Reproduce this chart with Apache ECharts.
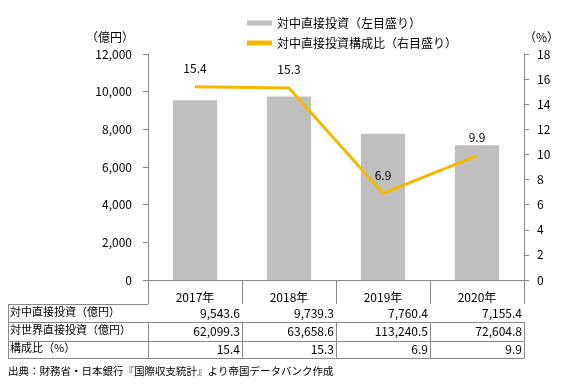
<!DOCTYPE html>
<html>
<head>
<meta charset="utf-8">
<script src="https://cdn.jsdelivr.net/npm/echarts@6/dist/echarts.min.js"></script>
<style>html,body{margin:0;padding:0;background:#fff}#c{width:564px;height:387px}</style>
</head>
<body>
<div id="c"></div>
<script>
const categories = ['2017年', '2018年', '2019年', '2020年'];
const chinaFDI = [9543.6, 9739.3, 7760.4, 7155.4];
const worldFDI = [62099.3, 63658.6, 113240.5, 72604.8];
const share = [15.4, 15.3, 6.9, 9.9];
const rowHeaders = ['対中直接投資（億円）', '対世界直接投資（億円）', '構成比（%）'];
const seriesNames = ['対中直接投資（左目盛り）', '対中直接投資構成比（右目盛り）'];
const sourceNote = '出典：財務省・日本銀行『国際収支統計』より帝国データバンク作成';

const FONT = "'Noto Sans CJK JP', sans-serif";
const LINE = '#888888';
const fmt1 = v => v.toLocaleString('en-US', {minimumFractionDigits: 1, maximumFractionDigits: 1});

const chart = echarts.init(document.getElementById('c'), null, {renderer: 'canvas'});

const gridLeft = 148, gridRight = 524, axisY = 280;
const rowTops = [304, 322, 341];
const rowBottoms = [322, 341, 358];

function tableAxis(values, offset, height, formatter) {
  return {
    type: 'category', gridIndex: 0, position: 'bottom', offset: offset,
    data: categories,
    axisLine: {show: true, lineStyle: {color: LINE, width: 1}},
    axisTick: {show: height > 0, length: height, lineStyle: {color: LINE}},
    axisLabel: {
      show: !!values,
      margin: height / 2 - 6,
      formatter: (val, i) => values ? '{v|' + formatter(values[i]) + '}' : '',
      rich: {v: {width: 90, align: 'right', fontSize: 12, fontFamily: FONT, color: '#000'}}
    }
  };
}

const graphics = [];
[rowTops[0], ...rowBottoms].forEach(y => {
  graphics.push({type: 'line', shape: {x1: 8, y1: y + 0.5, x2: gridLeft, y2: y + 0.5}, style: {stroke: LINE, lineWidth: 1}, silent: true});
});
graphics.push({type: 'line', shape: {x1: 8.5, y1: rowTops[0], x2: 8.5, y2: rowBottoms[2]}, style: {stroke: LINE, lineWidth: 1}, silent: true});
rowHeaders.forEach((t, i) => {
  graphics.push({type: 'text', left: 10, top: (rowTops[i] + rowBottoms[i]) / 2 - 7,
    style: {text: t, font: '11px ' + FONT, fill: '#000'}});
});
graphics.push({type: 'text', left: 8, top: 366, style: {text: sourceNote, font: '10.5px ' + FONT, fill: '#000'}});

chart.setOption({
  animation: false,
  textStyle: {fontFamily: FONT},
  grid: {left: gridLeft, right: 564 - gridRight, top: 54, bottom: 387 - axisY},
  legend: {
    orient: 'vertical', left: 242, top: 12, itemWidth: 25, itemHeight: 5, itemGap: 8,
    textStyle: {fontSize: 12, color: '#000', fontFamily: FONT},
    data: [{name: seriesNames[0], icon: 'rect'}, {name: seriesNames[1], icon: 'rect', itemStyle: {color: '#f5b800'}}]
  },
  xAxis: [
    {
      type: 'category', data: categories, position: 'bottom',
      axisLine: {show: true, lineStyle: {color: LINE}},
      axisTick: {show: true, length: 24, lineStyle: {color: LINE}},
      axisLabel: {margin: 11, fontSize: 12, color: '#000', fontFamily: FONT}
    },
    tableAxis(chinaFDI, 24, 18, fmt1),
    tableAxis(worldFDI, 42, 19, fmt1),
    tableAxis(share, 61, 17, v => v.toFixed(1)),
    tableAxis(null, 78, 0, null)
  ],
  yAxis: [
    {
      type: 'value', min: 0, max: 12000, interval: 2000, position: 'left',
      name: '（億円）', nameLocation: 'end', nameGap: 11,
      nameTextStyle: {align: 'right', padding: [0, 14, 0, 0], fontSize: 12, color: '#000'},
      axisLine: {show: true, lineStyle: {color: LINE}},
      axisTick: {show: true, length: 5, lineStyle: {color: LINE}},
      splitLine: {show: false},
      axisLabel: {margin: 16, fontSize: 12, color: '#000', formatter: v => v.toLocaleString('en-US')}
    },
    {
      type: 'value', min: 0, max: 18, interval: 2, position: 'right',
      name: '（%）', nameLocation: 'end', nameGap: 11,
      nameTextStyle: {align: 'left', padding: [0, 0, 0, 0], fontSize: 12, color: '#000'},
      axisLine: {show: true, lineStyle: {color: LINE}},
      axisTick: {show: true, length: 5, lineStyle: {color: LINE}},
      splitLine: {show: false},
      axisLabel: {margin: 13, fontSize: 12, color: '#000'}
    }
  ],
  series: [
    {
      name: seriesNames[0], type: 'bar', xAxisIndex: 0, yAxisIndex: 0,
      data: chinaFDI, barWidth: '47%', itemStyle: {color: '#bfbfbf'}
    },
    {
      name: seriesNames[1], type: 'line', xAxisIndex: 0, yAxisIndex: 1,
      data: share, symbol: 'circle', symbolSize: 0, showSymbol: true,
      lineStyle: {color: '#f5b800', width: 3}, itemStyle: {color: '#f5b800'},
      label: {show: true, position: 'top', distance: 12, fontSize: 12, color: '#000', formatter: p => p.value.toFixed(1)}
    }
  ],
  graphic: graphics
});
</script>
</body>
</html>
